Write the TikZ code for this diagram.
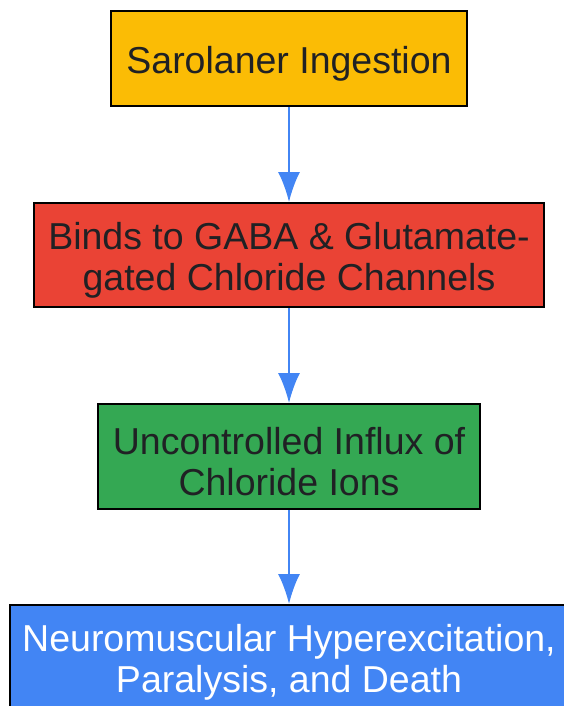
\documentclass[tikz,border=0pt]{standalone}
\usepackage{fontspec}
\setmainfont{Liberation Sans}
\usetikzlibrary{arrows.meta}
\definecolor{gyellow}{HTML}{FBBC05}
\definecolor{gred}{HTML}{EA4335}
\definecolor{ggreen}{HTML}{34A853}
\definecolor{gblue}{HTML}{4285F4}
\definecolor{ink}{HTML}{202124}
\newcommand{\lift}{\rule{0pt}{38pt}}
\begin{document}
\begin{tikzpicture}[x=1pt,y=-1pt,>={Latex[length=30pt,width=22pt]},
    stepbox/.style={draw=black,line width=2pt,align=center,inner sep=0pt,
      text=ink,font=\fontsize{37.5}{41}\selectfont},
    flow/.style={->,draw=gblue,line width=2pt}]
% \draw (0,0) rectangle (564,706) ;
\clip (0,0) rectangle (564,706) ;
    \node[stepbox,fill=gyellow,minimum width=356pt,minimum height=95pt] (ingest) at (289,58.5) {\lift Sarolaner Ingestion};
    \node[stepbox,fill=gred,minimum width=510pt,minimum height=104pt] (binds) at (289,255) {\lift Binds to GABA \& Glutamate-\\gated Chloride Channels};
    \node[stepbox,fill=ggreen,minimum width=382pt,minimum height=105pt] (influx) at (289,456.5) {\lift Uncontrolled Influx of\\Chloride Ions};
    \node[stepbox,fill=gblue,text=white,minimum width=558pt,minimum height=104pt] (death) at (289,657) {\lift Neuromuscular Hyperexcitation,\\Paralysis, and Death};
    \draw[flow] (ingest) -- (binds);
    \draw[flow] (binds) -- (influx);
    \draw[flow] (influx) -- (death);
\end{tikzpicture}
\end{document}
